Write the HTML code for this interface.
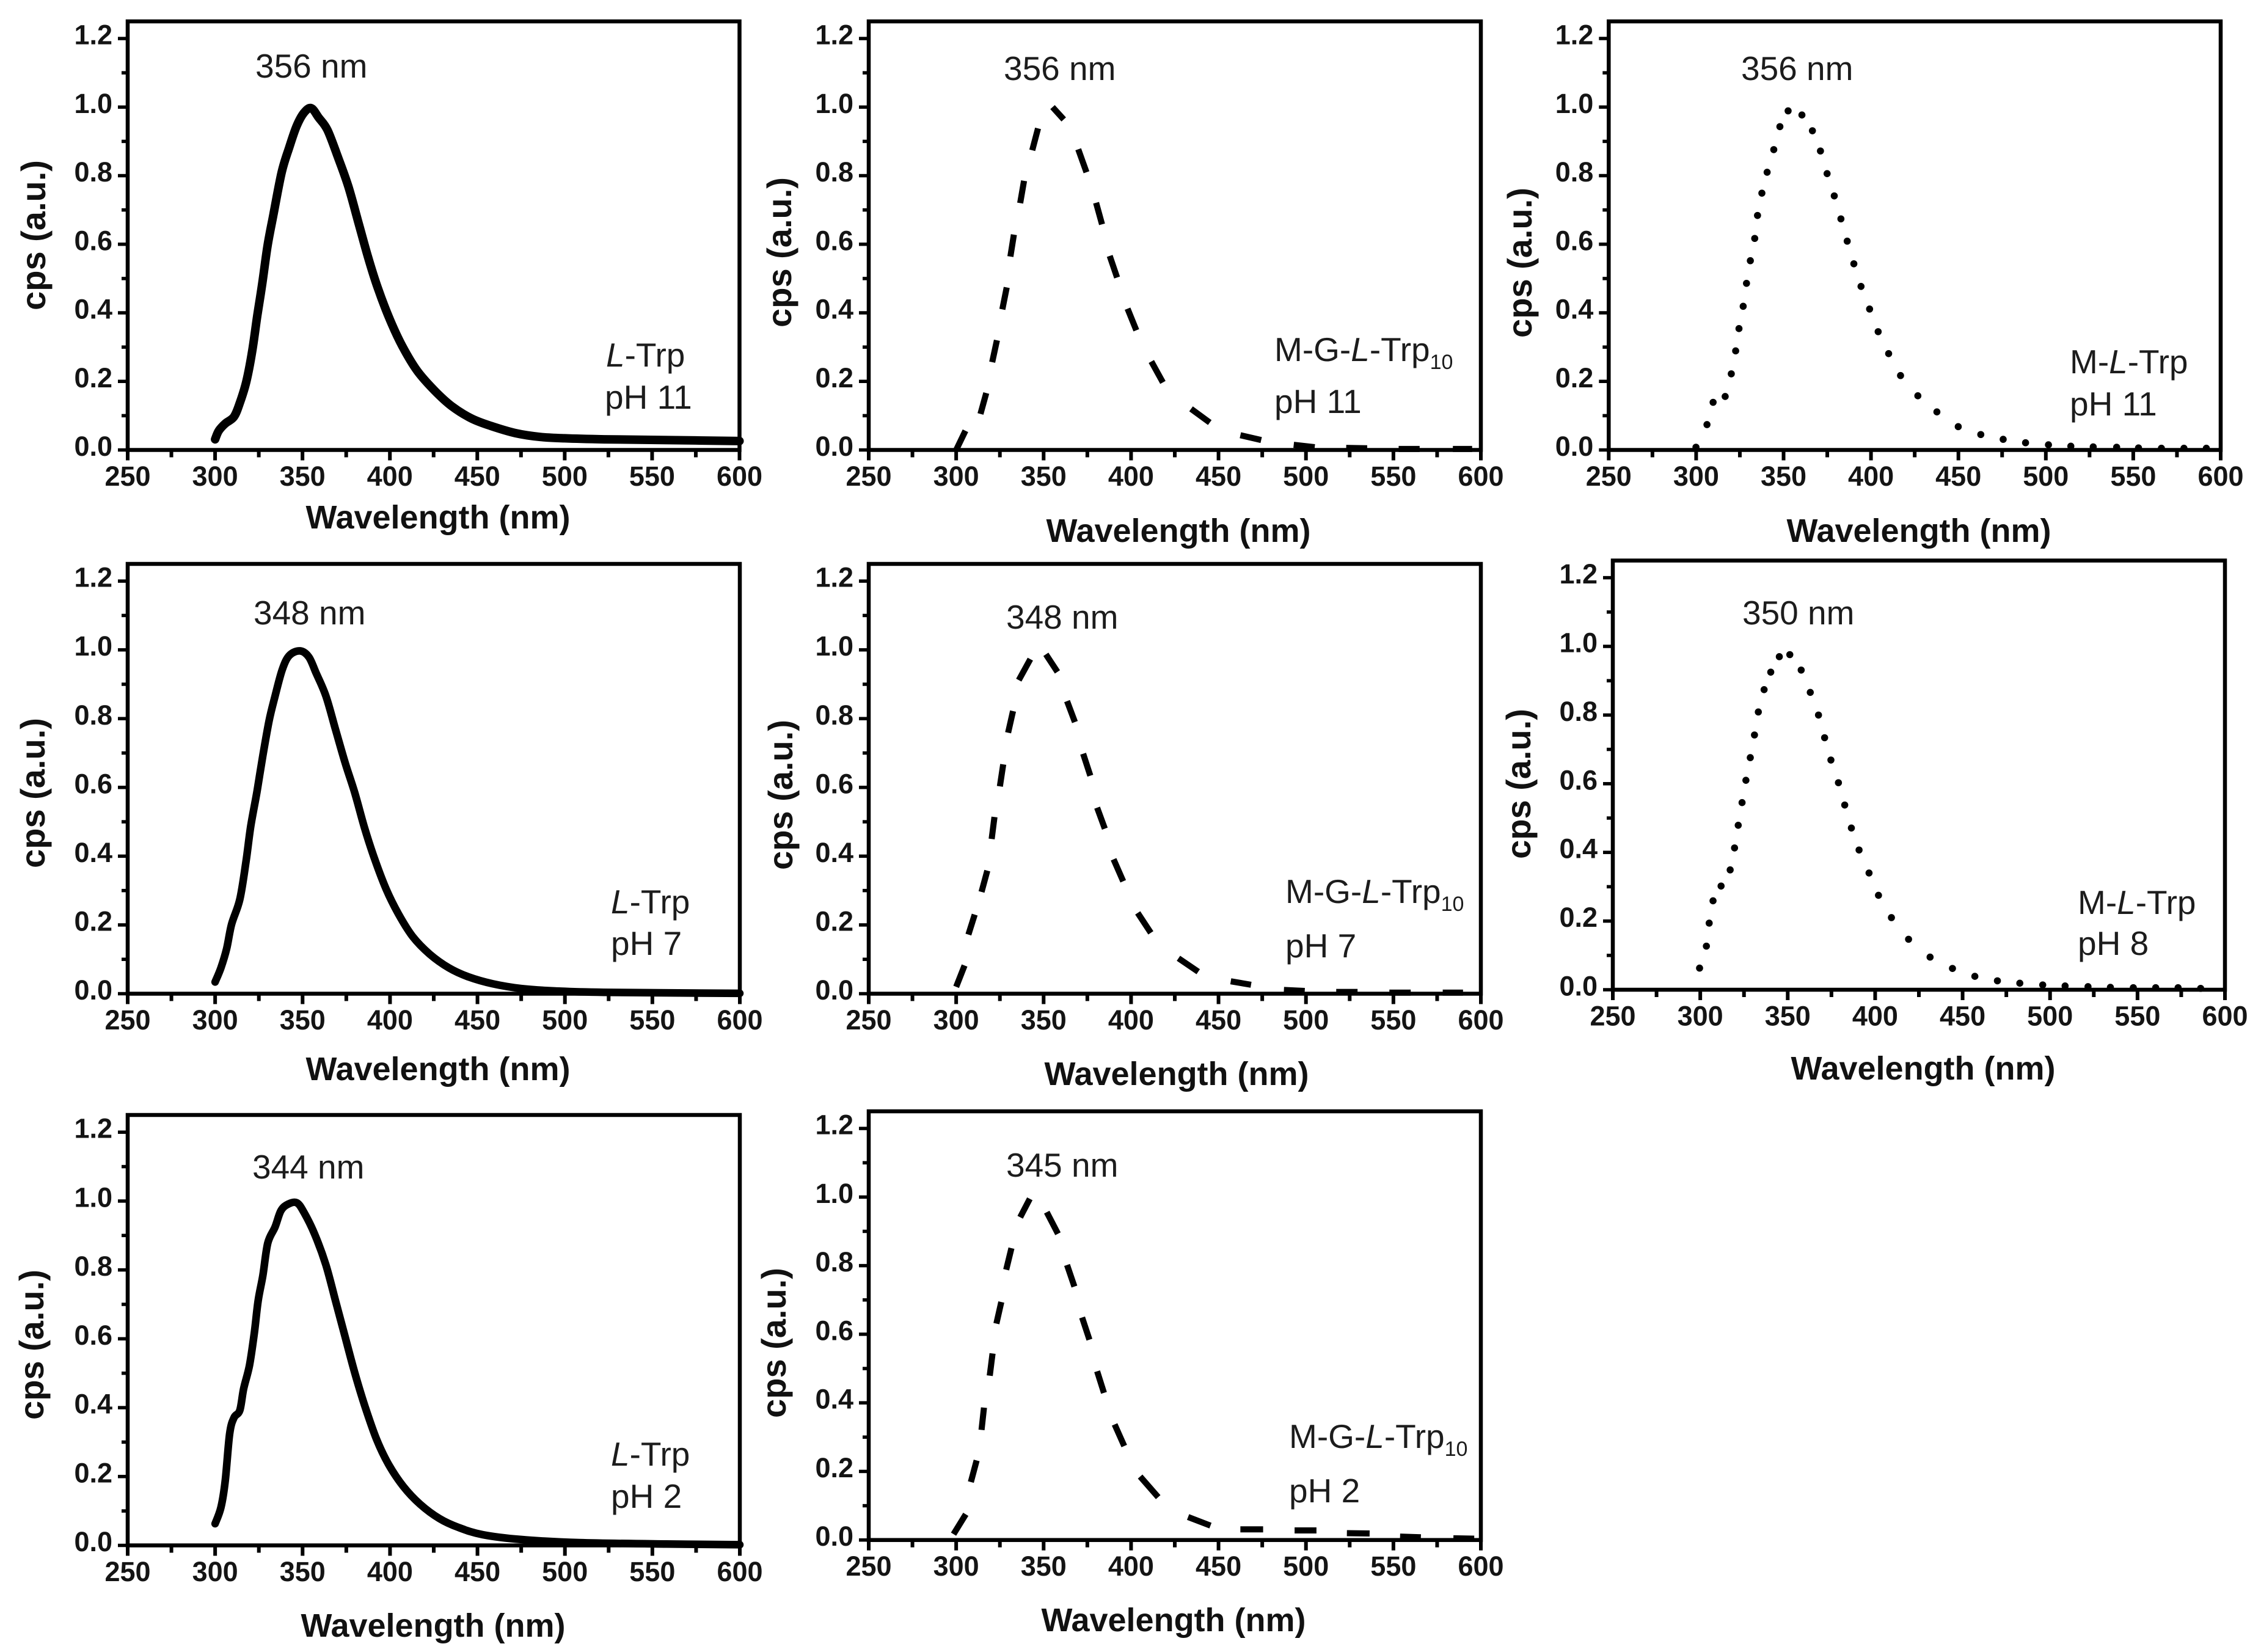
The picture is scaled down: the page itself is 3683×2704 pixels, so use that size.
<!DOCTYPE html>
<html lang="en">
<head>
<meta charset="utf-8">
<title>Normalised emission spectra of L-Trp, M-G-L-Trp10 and M-L-Trp</title>
<style>
  html, body { margin: 0; padding: 0; background: #fff; }
  svg { display: block; font-family: "Liberation Sans", Arial, sans-serif; }
  .tick { font-size: 45px; font-weight: 700; fill: #141414; }
  .axis-title { font-size: 54px; font-weight: 700; fill: #111; }
  .axis-title.y { font-size: 56px; }
  .note { font-size: 55px; font-weight: 400; fill: #1c1c1c; }
  .note .it { font-style: italic; }
  .note .sub { font-size: 34px; }
</style>
</head>
<body>
<svg id="figure" xmlns="http://www.w3.org/2000/svg" width="3683" height="2704" viewBox="0 0 3683 2704">
  <rect width="3683" height="2704" fill="#fff"/>

  <g id="panel-trp-ph11">
    <text class="axis-title" x="717" y="865" text-anchor="middle">Wavelength (nm)</text>
    <text class="axis-title y" text-anchor="middle" transform="translate(74 385) rotate(-90)">cps (a.u.)</text>
    <text class="note" x="418" y="127">356 nm</text>
    <text class="note" x="992" y="600"><tspan class="it">L</tspan>-Trp</text>
    <text class="note" x="990" y="669">pH 11</text>
  </g>

  <g id="panel-mg-ph11">
    <text class="axis-title" x="1929" y="887" text-anchor="middle">Wavelength (nm)</text>
    <text class="axis-title y" text-anchor="middle" transform="translate(1295 413) rotate(-90)">cps (a.u.)</text>
    <text class="note" x="1643" y="131">356 nm</text>
    <text class="note" x="2086" y="591">M-G-<tspan class="it">L</tspan>-Trp<tspan class="sub" dy="13">10</tspan></text>
    <text class="note" x="2086" y="676">pH 11</text>
  </g>

  <g id="panel-ml-ph11">
    <text class="axis-title" x="3141" y="887" text-anchor="middle">Wavelength (nm)</text>
    <text class="axis-title y" text-anchor="middle" transform="translate(2507 430) rotate(-90)">cps (a.u.)</text>
    <text class="note" x="2850" y="131">356 nm</text>
    <text class="note" x="3388" y="611">M-<tspan class="it">L</tspan>-Trp</text>
    <text class="note" x="3388" y="680">pH 11</text>
  </g>

  <g id="panel-trp-ph7">
    <text class="axis-title" x="717" y="1768" text-anchor="middle">Wavelength (nm)</text>
    <text class="axis-title y" text-anchor="middle" transform="translate(73 1298) rotate(-90)">cps (a.u.)</text>
    <text class="note" x="415" y="1022">348 nm</text>
    <text class="note" x="1000" y="1495"><tspan class="it">L</tspan>-Trp</text>
    <text class="note" x="1000" y="1563">pH 7</text>
  </g>

  <g id="panel-mg-ph7">
    <text class="axis-title" x="1926" y="1776" text-anchor="middle">Wavelength (nm)</text>
    <text class="axis-title y" text-anchor="middle" transform="translate(1297 1301) rotate(-90)">cps (a.u.)</text>
    <text class="note" x="1647" y="1029">348 nm</text>
    <text class="note" x="2104" y="1478">M-G-<tspan class="it">L</tspan>-Trp<tspan class="sub" dy="13">10</tspan></text>
    <text class="note" x="2104" y="1567">pH 7</text>
  </g>

  <g id="panel-ml-ph8">
    <text class="axis-title" x="3148" y="1767" text-anchor="middle">Wavelength (nm)</text>
    <text class="axis-title y" text-anchor="middle" transform="translate(2505 1283) rotate(-90)">cps (a.u.)</text>
    <text class="note" x="2852" y="1022">350 nm</text>
    <text class="note" x="3401" y="1496">M-<tspan class="it">L</tspan>-Trp</text>
    <text class="note" x="3401" y="1563">pH 8</text>
  </g>

  <g id="panel-trp-ph2">
    <text class="axis-title" x="709" y="2679" text-anchor="middle">Wavelength (nm)</text>
    <text class="axis-title y" text-anchor="middle" transform="translate(71 2201) rotate(-90)">cps (a.u.)</text>
    <text class="note" x="413" y="1929">344 nm</text>
    <text class="note" x="1000" y="2399"><tspan class="it">L</tspan>-Trp</text>
    <text class="note" x="1000" y="2468">pH 2</text>
  </g>

  <g id="panel-mg-ph2">
    <text class="axis-title" x="1921" y="2670" text-anchor="middle">Wavelength (nm)</text>
    <text class="axis-title y" text-anchor="middle" transform="translate(1286 2198) rotate(-90)">cps (a.u.)</text>
    <text class="note" x="1647" y="1926">345 nm</text>
    <text class="note" x="2110" y="2370">M-G-<tspan class="it">L</tspan>-Trp<tspan class="sub" dy="13">10</tspan></text>
    <text class="note" x="2110" y="2459">pH 2</text>
  </g>
</svg>

<script>
// ---- axis values ----
const xTickValues = [250, 300, 350, 400, 450, 500, 550, 600];
const xTickLabels = ['250', '300', '350', '400', '450', '500', '550', '600'];
const xMinorTickValues = [275, 325, 375, 425, 475, 525, 575];
const yTickValues = [0, 0.2, 0.4, 0.6, 0.8, 1.0, 1.2];
const yTickLabels = ['0.0', '0.2', '0.4', '0.6', '0.8', '1.0', '1.2'];
const yMinorTickValues = [0.1, 0.3, 0.5, 0.7, 0.9, 1.1];

// ---- L-Trp solid spectra: wavelength (nm), normalised cps ----
const trpPh11Wavelength = [300,302.1,305.8,310.8,314.2,317.9,321.2,324.1,326.9,330,333.4,338.1,342.4,346.6,350.8,355,359.3,364.3,370.5,376.2,381.8,387.4,393.1,400.1,407.1,415.6,425.4,435.3,446.6,457.8,471.9,486,500,522.6,556.4,600];
const trpPh11Cps = [0.031,0.056,0.077,0.097,0.138,0.2,0.287,0.39,0.482,0.595,0.687,0.81,0.882,0.944,0.983,0.997,0.969,0.933,0.851,0.769,0.667,0.564,0.472,0.379,0.303,0.231,0.174,0.128,0.092,0.07,0.049,0.038,0.034,0.031,0.029,0.026];

const trpPh7Wavelength = [300,303.3,306.6,309.4,314.1,317.7,320.4,324,327.3,330.9,334.3,338.4,342.5,348.6,353.6,357.7,363.3,368.8,374.3,379.8,385.4,390.9,397.8,404.7,413,422.7,433.7,444.8,458.6,475.1,494.5,522.1,600];
const trpPh7Cps = [0.034,0.075,0.131,0.202,0.274,0.386,0.488,0.59,0.693,0.795,0.866,0.943,0.984,0.997,0.979,0.933,0.866,0.769,0.672,0.585,0.483,0.396,0.304,0.233,0.166,0.115,0.075,0.049,0.029,0.015,0.008,0.004,0.001];

const trpPh2Wavelength = [300,303.3,305.8,308.3,310.8,314.1,316.3,319.6,322.4,324.6,327.3,330.1,334.3,337.6,341.7,346.7,350.8,356.9,363.3,368.8,374.3,379.8,385.4,392.3,399.2,407.5,417.1,428.2,439.2,453,475.1,508.3,558,600];
const trpPh2Cps = [0.063,0.11,0.188,0.324,0.371,0.392,0.455,0.522,0.617,0.711,0.784,0.878,0.925,0.972,0.991,0.995,0.967,0.904,0.815,0.711,0.606,0.502,0.408,0.308,0.235,0.172,0.12,0.078,0.052,0.031,0.017,0.008,0.004,0.002];

// ---- M-G-L-Trp10 dashed spectra: each consecutive pair of points is one visible dash ----
const mgPh11Wavelength = [300,305.3, 313.9,317.2, 320.6,323.3, 326.4,328.9, 331,333, 336.6,338.8, 343.5,346.8, 355.1,361.5, 369.8,374.5, 380,383.4, 387.8,392, 398,403, 411.6,418.2, 434.3,445, 462.5,474.4, 493,505, 523,535, 553,565, 584,595];
const mgPh11Cps = [0,0.056, 0.105,0.166, 0.256,0.32, 0.41,0.474, 0.564,0.628, 0.72,0.785, 0.874,0.938, 1.0,0.964, 0.877,0.81, 0.721,0.658, 0.566,0.503, 0.412,0.349, 0.258,0.197, 0.12,0.08, 0.043,0.029, 0.015,0.008, 0.006,0.005, 0.003,0.003, 0.003,0.003];

const mgPh7Wavelength = [300,304.8, 307,310.6, 314.5,317.8, 320.3,321.9, 325,326.9, 329.7,332.5, 335.8,342.4, 351.3,357.9, 363.4,367.9, 372.6,376.7, 380.6,385, 390,395.5, 403.8,411.3, 427.1,438.4, 457,468.6, 487.4,499.3, 517.3,529.5, 547.7,559.9, 578.2,589.8];
const mgPh7Cps = [0.02,0.082, 0.172,0.23, 0.296,0.358, 0.45,0.514, 0.603,0.667, 0.759,0.822, 0.912,0.973, 0.987,0.936, 0.851,0.79, 0.698,0.634, 0.541,0.48, 0.391,0.327, 0.235,0.177, 0.103,0.064, 0.036,0.026, 0.011,0.008, 0.005,0.005, 0.003,0.003, 0.003,0.003];

const mgPh2Wavelength = [298.5,305.5, 308.4,311.7, 314.5,315.9, 319.2,320.8, 323,325.8, 328.6,331.6, 336.6,342.1, 351.8,358.2, 363.4,367.6, 372,376.2, 380.6,384.5, 390.6,396.1, 405.2,415.5, 432.6,445.4, 462.5,475.5, 493.5,506, 523.4,536.4, 553.8,565.7, 584.3,596.2];
const mgPh2Cps = [0.017,0.075, 0.169,0.232, 0.321,0.386, 0.479,0.544, 0.631,0.694, 0.788,0.851, 0.941,0.995, 0.956,0.893, 0.802,0.739, 0.649,0.584, 0.492,0.429, 0.337,0.274, 0.185,0.125, 0.067,0.042, 0.031,0.031, 0.028,0.028, 0.02,0.019, 0.01,0.008, 0.005,0.004];

// ---- M-L-Trp dotted spectra ----
const mlPh11Wavelength = [299.9,306.2,309.7,316.6,320.1,322.6,324.5,326.9,328.8,331,333.5,335.1,337.6,340.6,344.4,347.9,352.6,360.5,366.5,371.1,374.9,379,382.8,386.4,390.2,394.3,399.2,404.1,410.1,416.9,426.8,437.7,449.9,462.8,475.6,488.4,501.5,514.3,527.1,540.5,553,566.1,579,591.8];
const mlPh11Cps = [0.008,0.074,0.139,0.156,0.222,0.289,0.354,0.419,0.486,0.552,0.617,0.684,0.749,0.81,0.876,0.943,0.989,0.977,0.931,0.872,0.806,0.741,0.674,0.609,0.543,0.477,0.411,0.345,0.281,0.217,0.158,0.111,0.068,0.045,0.031,0.021,0.015,0.011,0.009,0.008,0.006,0.005,0.005,0.005];

const mlPh8Wavelength = [299.6,303.5,305.1,307.3,311.9,317.1,319.6,321.7,323.9,326.1,328.6,331,333.2,336.5,340.3,345.2,351.2,357.7,362.9,367.6,371.1,374.7,379,382.6,386.4,390.8,396.5,401.9,409.3,419.1,431.4,444.2,457,469.9,482.7,495.8,508.6,521.7,534.5,547.6,560.4,573.2,586.1];
const mlPh8Cps = [0.063,0.127,0.194,0.259,0.302,0.349,0.413,0.479,0.545,0.61,0.676,0.742,0.809,0.874,0.925,0.97,0.976,0.931,0.866,0.8,0.734,0.669,0.603,0.538,0.471,0.407,0.34,0.275,0.21,0.147,0.095,0.062,0.039,0.026,0.019,0.014,0.011,0.009,0.007,0.006,0.006,0.006,0.004];

// ---- axis domains shared by every panel ----
const xDomain = [250, 600];
const yDomain = [0, 1.25];

const SVG_NS = 'http://www.w3.org/2000/svg';

function makeX(p) {
  return function (v) { return p.left + (v - xDomain[0]) / (xDomain[1] - xDomain[0]) * (p.right - p.left); };
}
function makeY(p) {
  return function (v) { return p.zero - (v - yDomain[0]) / (yDomain[1] - yDomain[0]) * (p.zero - p.top); };
}
function line(parent, x1, y1, x2, y2, width) {
  const el = document.createElementNS(SVG_NS, 'line');
  el.setAttribute('x1', x1);
  el.setAttribute('y1', y1);
  el.setAttribute('x2', x2);
  el.setAttribute('y2', y2);
  el.setAttribute('stroke', '#000');
  el.setAttribute('stroke-width', width);
  parent.appendChild(el);
  return el;
}

function drawAxes(p, g, sx, sy) {
  xTickValues.forEach(function (v, i) {
    const tick = line(g, sx(v), p.zero, sx(v), p.zero + 17, 6);
    
    
    const label = document.createElementNS(SVG_NS, 'text');
    
    
    label.setAttribute('class', 'tick');
    label.setAttribute('x', sx(v));
    label.setAttribute('y', p.zero + 58.5);
    label.setAttribute('text-anchor', 'middle');
    label.textContent = xTickLabels[i];
    g.appendChild(label);
  });
  xMinorTickValues.forEach(function (v) {
    const tick = line(g, sx(v), p.zero, sx(v), p.zero + 12, 6);
    
    
  });
  yTickValues.forEach(function (v, i) {
    const tick = line(g, p.left - 16, sy(v), p.left, sy(v), 5.5);
    
    
    const label = document.createElementNS(SVG_NS, 'text');
    
    
    label.setAttribute('class', 'tick');
    label.setAttribute('x', p.left - 25);
    label.setAttribute('y', sy(v) + 9.5);
    label.setAttribute('text-anchor', 'end');
    label.textContent = yTickLabels[i];
    g.appendChild(label);
  });
  yMinorTickValues.forEach(function (v) {
    const tick = line(g, p.left - 10, sy(v), p.left, sy(v), 5.5);
    
    
  });
  const frame = document.createElementNS(SVG_NS, 'rect');
  
  
  frame.setAttribute('x', p.left);
  frame.setAttribute('y', p.top);
  frame.setAttribute('width', p.right - p.left);
  frame.setAttribute('height', p.zero - p.top);
  frame.setAttribute('fill', 'none');
  frame.setAttribute('stroke', '#000');
  frame.setAttribute('stroke-width', '6.5');
  g.appendChild(frame);
}

// Smooth curve through the data points (Catmull-Rom converted to cubic Bezier segments).
function drawSolid(g, xs, ys, sx, sy, p) {
  const pts = xs.map(function (x, i) { return [sx(x), sy(ys[i])]; });
  let d = 'M' + pts[0][0].toFixed(1) + ' ' + pts[0][1].toFixed(1);
  for (let i = 0; i < pts.length - 1; i++) {
    const a = pts[Math.max(i - 1, 0)];
    const b = pts[i];
    const c = pts[i + 1];
    const e = pts[Math.min(i + 2, pts.length - 1)];
    const c1x = b[0] + (c[0] - a[0]) / 6;
    const c1y = b[1] + (c[1] - a[1]) / 6;
    const c2x = c[0] - (e[0] - b[0]) / 6;
    const c2y = c[1] - (e[1] - b[1]) / 6;
    d += 'C' + c1x.toFixed(1) + ' ' + c1y.toFixed(1) + ' ' + c2x.toFixed(1) + ' ' + c2y.toFixed(1) + ' ' + c[0].toFixed(1) + ' ' + c[1].toFixed(1);
  }
  const el = document.createElementNS(SVG_NS, 'path');
  
  
  el.setAttribute('d', d);
  el.setAttribute('fill', 'none');
  el.setAttribute('stroke', '#000');
  el.setAttribute('stroke-width', p.lineWidth);
  el.setAttribute('stroke-linejoin', 'round');
  el.setAttribute('stroke-linecap', 'round');
  g.appendChild(el);
}

function drawDashes(g, xs, ys, sx, sy) {
  for (let i = 0; i + 1 < xs.length; i += 2) {
    const el = line(g, sx(xs[i]), sy(ys[i]), sx(xs[i + 1]), sy(ys[i + 1]), 10);
    
    
  }
}

function drawDots(g, xs, ys, sx, sy) {
  xs.forEach(function (x, i) {
    const el = document.createElementNS(SVG_NS, 'circle');
    
    
    el.setAttribute('cx', sx(x));
    el.setAttribute('cy', sy(ys[i]));
    el.setAttribute('r', 5.8);
    el.setAttribute('fill', '#000');
    g.appendChild(el);
  });
}

const panels = [
  { id: 'panel-trp-ph11', left: 209, right: 1210.5, top: 35, zero: 736.5, xs: trpPh11Wavelength, ys: trpPh11Cps, draw: drawSolid, lineWidth: 14 },
  { id: 'panel-mg-ph11',  left: 1422, right: 2424, top: 35, zero: 736.5, xs: mgPh11Wavelength, ys: mgPh11Cps, draw: drawDashes },
  { id: 'panel-ml-ph11',  left: 2633.3, right: 3635, top: 35, zero: 736.5, xs: mlPh11Wavelength, ys: mlPh11Cps, draw: drawDots },
  { id: 'panel-trp-ph7',  left: 209, right: 1211, top: 923, zero: 1626.5, xs: trpPh7Wavelength, ys: trpPh7Cps, draw: drawSolid, lineWidth: 12.5 },
  { id: 'panel-mg-ph7',   left: 1422, right: 2424, top: 923, zero: 1626.5, xs: mgPh7Wavelength, ys: mgPh7Cps, draw: drawDashes },
  { id: 'panel-ml-ph8',   left: 2640, right: 3642, top: 917.5, zero: 1620, xs: mlPh8Wavelength, ys: mlPh8Cps, draw: drawDots },
  { id: 'panel-trp-ph2',  left: 209, right: 1211, top: 1825, zero: 2529.5, xs: trpPh2Wavelength, ys: trpPh2Cps, draw: drawSolid, lineWidth: 12.5 },
  { id: 'panel-mg-ph2',   left: 1422, right: 2424, top: 1819, zero: 2520.7, xs: mgPh2Wavelength, ys: mgPh2Cps, draw: drawDashes }
];

panels.forEach(function (p) {
  const g = document.getElementById(p.id);
  const sx = makeX(p);
  const sy = makeY(p);
  p.draw(g, p.xs, p.ys, sx, sy, p);
  drawAxes(p, g, sx, sy);
});
</script>
</body>
</html>
